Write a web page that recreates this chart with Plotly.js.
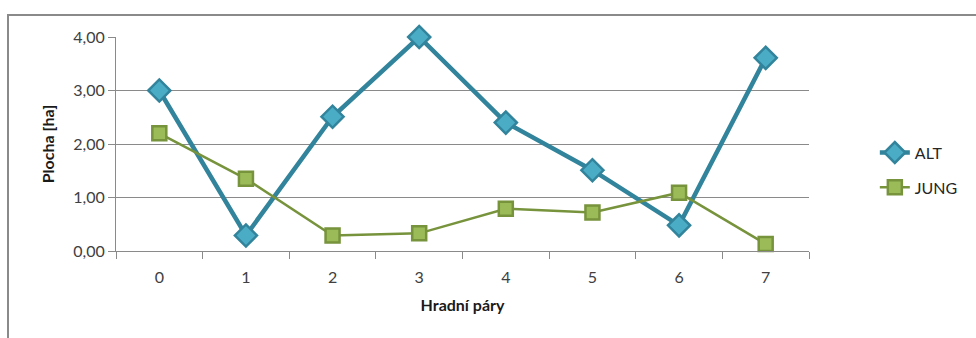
<!DOCTYPE html>
<html><head><meta charset="utf-8">
<script src="https://cdn.plot.ly/plotly-3.0.1.min.js"></script>
<style>
html,body{margin:0;padding:0;background:#fff;}
#wrap{position:relative;width:976px;height:338px;}
#chart{position:absolute;left:0;top:0;width:976px;height:338px;}
#frame{position:absolute;left:7px;top:14px;width:969px;height:324px;border-top:2px solid #8a8a8a;border-left:2px solid #8a8a8a;pointer-events:none;}
</style></head>
<body><div id="wrap"><div id="chart"></div><div id="frame"></div></div>
<script>
const categories = ["0","1","2","3","4","5","6","7"];
const altValues  = [3.00, 0.29, 2.51, 4.00, 2.40, 1.51, 0.48, 3.61];
const jungValues = [2.20, 1.35, 0.29, 0.33, 0.79, 0.72, 1.09, 0.13];
const yTicks = [0, 1, 2, 3, 4];

const fontFam = "Lato, 'Open Sans', sans-serif";
const traces = [
  {x: categories, y: altValues, name: "ALT", type: "scatter", mode: "lines+markers",
   legendgroup: "a", cliponaxis: false,
   line: {color: "#31849B", width: 4.5},
   marker: {symbol: "diamond", size: 17, color: "#4BACC6", line: {color: "#31849B", width: 2.5}}},
  {x: categories, y: jungValues, name: "JUNG", type: "scatter", mode: "lines+markers",
   legendgroup: "b", cliponaxis: false,
   line: {color: "#77933C", width: 2.5},
   marker: {symbol: "square", size: 14, color: "#9BBB59", line: {color: "#77933C", width: 2.5}}}
];
const layout = {
  width: 976, height: 338,
  margin: {l: 116, r: 167, t: 37, b: 87},
  paper_bgcolor: "#fff", plot_bgcolor: "#fff",
  separators: ", ",
  font: {family: fontFam, size: 16, color: "#404040"},
  showlegend: true,
  legend: {x: 1.095, xanchor: "left", y: 0.378, yanchor: "middle", tracegroupgap: 11,
           font: {family: fontFam, size: 16, color: "#262626"}, bgcolor: "rgba(0,0,0,0)"},
  xaxis: {type: "category", tickson: "boundaries", showgrid: false,
          showline: true, linecolor: "#8a8a8a", linewidth: 1,
          ticks: "outside", ticklen: 7, tickcolor: "#8a8a8a",
          ticklabelstandoff: 12,
          range: [-0.5, 7.5], fixedrange: true, zeroline: false,
          tickfont: {family: fontFam, size: 16, color: "#404040"},
          title: {text: "<b>Hradní páry</b>", standoff: 14, font: {family: fontFam, size: 16, color: "#1a1a1a"}}},
  yaxis: {range: [0, 4], tickvals: yTicks, tickformat: ".2f",
          showgrid: true, gridcolor: "#8a8a8a", gridwidth: 1,
          showline: true, linecolor: "#8a8a8a", linewidth: 1,
          ticks: "outside", ticklen: 7, tickcolor: "#8a8a8a",
          zeroline: false, fixedrange: true,
          tickfont: {family: fontFam, size: 16, color: "#404040"},
          title: {text: "<b>Plocha [ha]</b>", standoff: 14, font: {family: fontFam, size: 16, color: "#1a1a1a"}}}
};
Plotly.newPlot("chart", traces, layout, {staticPlot: true, displayModeBar: false});
</script></body></html>
